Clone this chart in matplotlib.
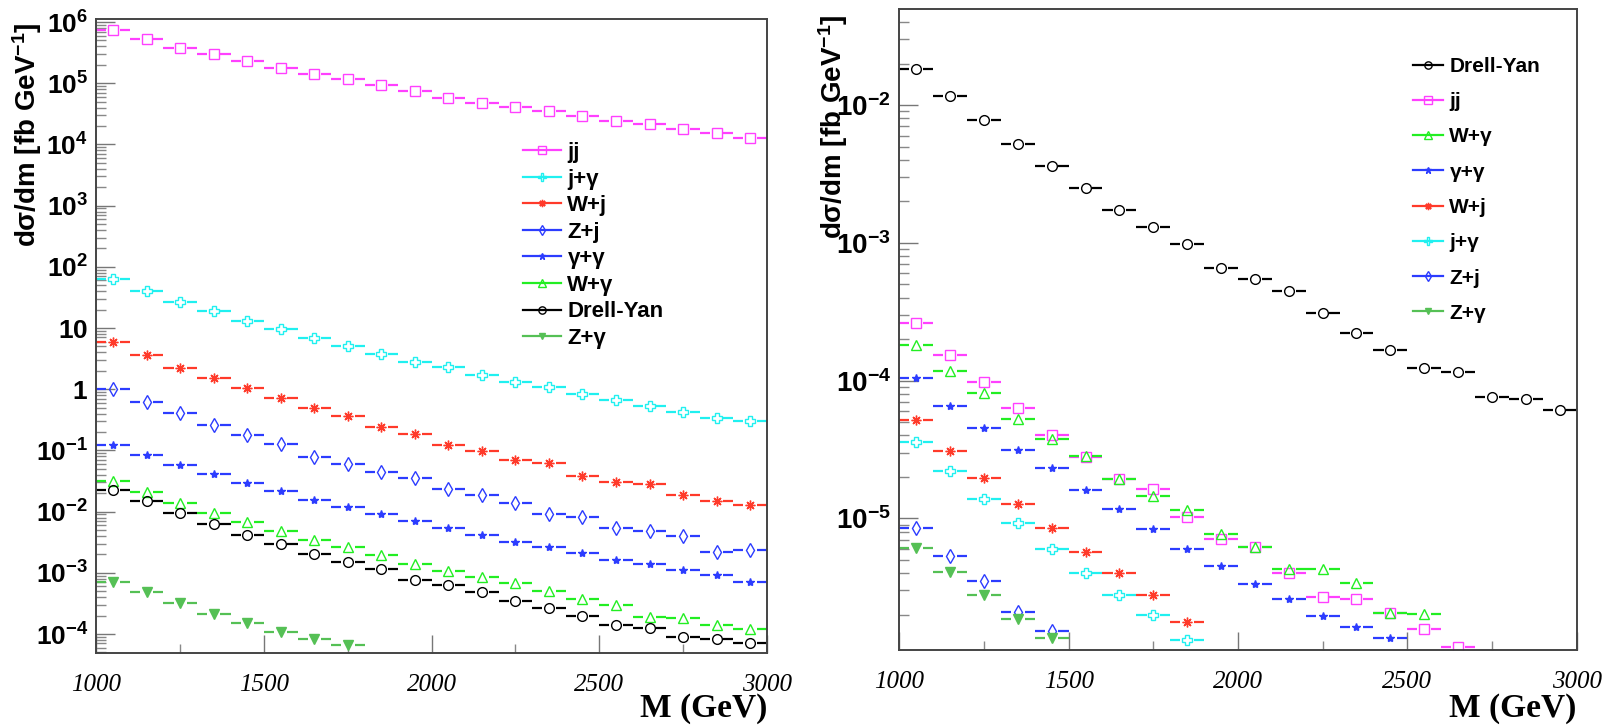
import numpy as np
import matplotlib.pyplot as plt
from matplotlib.lines import Line2D
from matplotlib.ticker import FixedLocator, LogLocator, NullFormatter, FuncFormatter

plt.rcParams['font.family'] = ['Liberation Sans', 'DejaVu Sans']
plt.rcParams['mathtext.fontset'] = 'custom'
plt.rcParams['mathtext.rm'] = 'Liberation Sans:bold'
plt.rcParams['mathtext.bf'] = 'Liberation Sans:bold'
plt.rcParams['mathtext.it'] = 'Liberation Sans:bold'

# bins of 100 GeV from 1 to 3 TeV
edges = np.arange(1000, 3001, 100)
centers = (edges[:-1] + edges[1:]) / 2

# left panel
jj_l = [7.3e5, 5.2e5, 3.8e5, 3.0e5, 2.3e5, 1.78e5, 1.40e5, 1.16e5, 9.2e4, 7.5e4,
        5.7e4, 4.7e4, 4.15e4, 3.5e4, 2.96e4, 2.45e4, 2.17e4, 1.8e4, 1.53e4, 1.26e4]
jgam_l = [63, 41, 27, 18.8, 12.9, 9.7, 6.9, 5.1, 3.8, 2.79,
          2.31, 1.69, 1.29, 1.07, 0.83, 0.66, 0.54, 0.42, 0.34, 0.30]
wj_l = [5.9, 3.67, 2.25, 1.55, 1.03, 0.72, 0.50, 0.364, 0.24, 0.183,
        0.123, 0.098, 0.070, 0.062, 0.0377, 0.031, 0.028, 0.0189, 0.0148, 0.0130]
zj_l = [1.0, 0.62, 0.41, 0.26, 0.179, 0.126, 0.078, 0.060, 0.045, 0.0353,
        0.0237, 0.0189, 0.0138, 0.0092, 0.0081, 0.0054, 0.0048, 0.0040, 0.0022, 0.0024]
gg_l = [0.123, 0.083, 0.058, 0.041, 0.0293, 0.0215, 0.0157, 0.0118, 0.0092, 0.0071,
        0.0054, 0.0042, 0.0032, 0.0026, 0.0021, 0.0016, 0.00138, 0.00110, 0.00091, 0.00072]
wgam_l = [0.032, 0.021, 0.0138, 0.0095, 0.0067, 0.0049, 0.0034, 0.0026, 0.00195, 0.00141,
          0.00107, 0.00086, 0.00067, 0.00051, 0.00037, 0.000297, 0.000187, 0.000183, 0.000142, 0.000121]
dy_l = [0.0228, 0.0148, 0.0095, 0.0063, 0.0042, 0.0030, 0.00205, 0.00152, 0.00114, 0.00076,
        0.00064, 0.00049, 0.00035, 0.00027, 0.0002, 0.000142, 0.000126, 8.8e-5, 8.3e-5, 7.1e-5]
zgam_l = [0.00072, 0.00048, 0.00032, 0.00021, 0.000149, 0.000107, 8.3e-5, 6.5e-5]

# right panel
dy_r = [0.0182, 0.0117, 0.00778, 0.00521, 0.0036, 0.0025, 0.00173, 0.00131, 0.00098, 0.000653,
        0.000543, 0.000447, 0.000308, 0.000223, 0.000167, 0.000123, 0.000116, 7.6e-5, 7.35e-5, 6.1e-5]
jj_r = [2.61e-4, 1.54e-4, 9.77e-5, 6.3e-5, 4.0e-5, 2.77e-5, 1.92e-5, 1.63e-5, 1.02e-5,
        7.08e-6, 6.16e-6, 4.03e-6, 2.67e-6, 2.59e-6, 2.05e-6, 1.57e-6, 1.17e-6]
wgam_r = [1.81e-4, 1.18e-4, 8.1e-5, 5.3e-5, 3.75e-5, 2.84e-5, 1.92e-5, 1.46e-5, 1.16e-5,
          7.66e-6, 6.24e-6, 4.3e-6, 4.27e-6, 3.38e-6, 2.05e-6, 2.02e-6]
gg_r = [1.04e-4, 6.58e-5, 4.55e-5, 3.13e-5, 2.32e-5, 1.6e-5, 1.18e-5, 8.37e-6, 6.03e-6,
        4.54e-6, 3.34e-6, 2.59e-6, 1.96e-6, 1.64e-6, 1.35e-6]
wj_r = [5.18e-5, 3.1e-5, 1.97e-5, 1.27e-5, 8.57e-6, 5.7e-6, 4.02e-6, 2.78e-6, 1.77e-6]
jgam_r = [3.56e-5, 2.21e-5, 1.38e-5, 9.2e-6, 6.0e-6, 3.99e-6, 2.78e-6, 2.0e-6, 1.32e-6]
zj_r = [8.57e-6, 5.33e-6, 3.53e-6, 2.1e-6, 1.53e-6]
zgam_r = [6.12e-6, 4.1e-6, 2.78e-6, 1.85e-6, 1.36e-6]

# name: (colour, marker, filled, size)
style = {
    'jj': ('#ff40ff', 's', False, 7),
    'j+γ': ('#20f0f0', 'P', False, 7.5),
    'W+j': ('#ff3a2a', (8, 2, 0), False, 7),
    'Z+j': ('#2c3cff', 'd', False, 7),
    'γ+γ': ('#2c3cff', '*', True, 6),
    'W+γ': ('#22ee22', '^', False, 7.5),
    'Drell-Yan': ('black', 'o', False, 7),
    'Z+γ': ('#55c055', 'v', True, 6.5),
}

left_series = [('jj', jj_l), ('j+γ', jgam_l), ('W+j', wj_l), ('Z+j', zj_l),
               ('γ+γ', gg_l), ('W+γ', wgam_l), ('Drell-Yan', dy_l), ('Z+γ', zgam_l)]
right_series = [('Drell-Yan', dy_r), ('jj', jj_r), ('W+γ', wgam_r), ('γ+γ', gg_r),
                ('W+j', wj_r), ('j+γ', jgam_r), ('Z+j', zj_r), ('Z+γ', zgam_r)]


def draw(ax, name, vals):
    col, mk, filled, ms = style[name]
    n = len(vals)
    x = centers[:n]
    y = np.array(vals)
    gap = 20
    ax.hlines(y, edges[:n], x - gap, color=col, lw=1.6)
    ax.hlines(y, x + gap, edges[1:n + 1], color=col, lw=1.6)
    ax.plot(x, y, ls='none', marker=mk, ms=ms, mec=col,
            mfc=col if filled else 'none', mew=1.0)


def handle(name):
    col, mk, filled, ms = style[name]
    return Line2D([], [], color=col, lw=1.6, marker=mk, ms=ms * 0.75, mec=col,
                  mfc=col if filled else 'none', mew=1.0)


def ylab(v, pos):
    k = int(round(np.log10(v)))
    if k == 0:
        return '$1$'
    if k == 1:
        return '$10$'
    return '$10^{%d}$' % k


def setup(ax, ylim, majors, ysize):
    ax.set_yscale('log')
    ax.set_xlim(1000, 3000)
    ax.set_ylim(*ylim)
    ax.yaxis.set_major_locator(FixedLocator(majors))
    ax.yaxis.set_major_formatter(FuncFormatter(ylab))
    ax.yaxis.set_minor_locator(LogLocator(base=10, subs=np.arange(2, 10), numticks=100))
    ax.yaxis.set_minor_formatter(NullFormatter())
    ax.xaxis.set_major_locator(FixedLocator([1000, 1500, 2000, 2500, 3000]))
    ax.xaxis.set_minor_locator(FixedLocator([1250, 1750, 2250, 2750]))
    ax.tick_params(axis='y', which='major', direction='in', length=14, width=1,
                   color='#777777', labelsize=ysize, pad=6, right=False)
    ax.tick_params(axis='y', which='minor', direction='in', length=7, width=1,
                   color='#888888', right=False)
    ax.tick_params(axis='x', which='major', direction='in', length=13, width=1,
                   color='#777777', labelsize=18, pad=15, top=False)
    ax.tick_params(axis='x', which='minor', direction='in', length=6.5, width=1,
                   color='#888888', top=False)
    for lab in ax.get_xticklabels():
        lab.set_fontfamily('Liberation Serif')
        lab.set_fontstyle('italic')
        lab.set_fontweight('normal')
    for sp in ax.spines.values():
        sp.set_color('#444444')
        sp.set_linewidth(1.4)


fig = plt.figure(figsize=(16.07, 7.26), dpi=100)
axl = fig.add_axes([0.0600, 0.1006, 0.4172, 0.8732])
axr = fig.add_axes([0.5596, 0.1047, 0.4215, 0.8829])

for name, vals in left_series:
    draw(axl, name, vals)
for name, vals in right_series:
    draw(axr, name, vals)

setup(axl, (4.9e-5, 1.12e6), [10.0 ** k for k in range(-4, 7)], 19)
setup(axr, (1.11e-6, 0.0498), [10.0 ** k for k in range(-5, -1)], 20)

axl.legend([handle(n) for n, _ in left_series], [n for n, _ in left_series],
           loc='upper left', bbox_to_anchor=(523 / 1607, 1 - 142 / 726),
           bbox_transform=fig.transFigure, frameon=False, borderpad=0,
           borderaxespad=0, labelspacing=0.25, handlelength=1.7,
           handletextpad=0.3, prop={'weight': 'bold', 'size': 16})
axr.legend([handle(n) for n, _ in right_series], [n for n, _ in right_series],
           loc='upper left', bbox_to_anchor=(1413 / 1607, 1 - 57 / 726),
           bbox_transform=fig.transFigure, frameon=False, borderpad=0,
           borderaxespad=0, labelspacing=0.78, handlelength=1.45,
           handletextpad=0.3, prop={'weight': 'bold', 'size': 15})

ytitle = 'dσ/dm [fb GeV$^{-1}$]'
fig.text(27 / 1607, 1 - 135 / 726, ytitle, rotation=90, ha='center', va='center',
         fontsize=20, fontweight='bold')
fig.text(833 / 1607, 1 - 127 / 726, ytitle, rotation=90, ha='center', va='center',
         fontsize=20, fontweight='bold')
for xr in (767 / 1607, 1576 / 1607):
    fig.text(xr, 1 - 709 / 726, 'M (GeV)', ha='right', va='center', fontsize=24,
             fontweight='bold', family='Liberation Serif')

fig.savefig('out.png', dpi=100)
